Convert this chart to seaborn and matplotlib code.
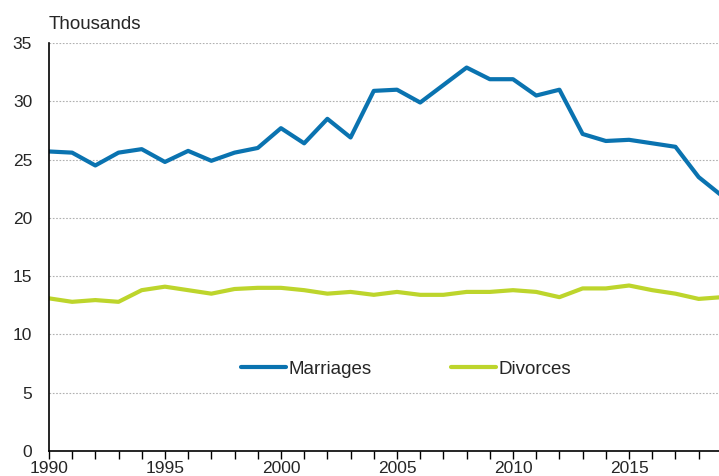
import pandas as pd
import seaborn as sns
import matplotlib.pyplot as plt

# data (thousands)
years = list(range(1990, 2020))
marriages = [25.7, 25.6, 24.5, 25.6, 25.9, 24.8, 25.75, 24.9, 25.6, 26.0,
             27.7, 26.4, 28.5, 26.9, 30.9, 31.0, 29.9, 31.4, 32.9, 31.9,
             31.9, 30.5, 31.0, 27.2, 26.6, 26.7, 26.4, 26.1, 23.5, 21.9]
divorces = [13.1, 12.8, 12.95, 12.8, 13.8, 14.1, 13.8, 13.5, 13.9, 14.0,
            14.0, 13.8, 13.5, 13.65, 13.4, 13.65, 13.4, 13.4, 13.65, 13.65,
            13.8, 13.65, 13.2, 13.95, 13.95, 14.2, 13.8, 13.5, 13.05, 13.2]

df = pd.DataFrame({'year': years * 2,
                   'value': marriages + divorces,
                   'series': ['Marriages'] * len(years) + ['Divorces'] * len(years)})

sns.set_style('white')
plt.rcParams['font.family'] = ['Liberation Sans', 'DejaVu Sans']

fig = plt.figure(figsize=(7.19, 4.76), dpi=100)
ax = fig.add_axes([0.068, 0.0525, 0.936, 0.857])

sns.lineplot(data=df, x='year', y='value', hue='series',
             palette={'Marriages': '#0a73b0', 'Divorces': '#bdd52c'},
             linewidth=3, ax=ax)

ax.set_xlim(1990, 2019)
ax.set_ylim(0, 35)
ax.set_yticks(range(0, 36, 5))
ax.set_xticks(range(1990, 2019, 5))
ax.set_xticks(range(1990, 2019), minor=True)
ax.tick_params(axis='x', which='both', direction='out', length=6, width=1,
               color='black', bottom=True, labelsize=12.5, pad=1)
ax.tick_params(axis='y', length=0, labelsize=12.5, pad=12)
ax.yaxis.grid(True, linestyle=(0, (1.5, 1.5)), color='#b0b0b0', linewidth=0.8)
ax.set_xlabel('')
ax.set_ylabel('')
for s in ['top', 'right']:
    ax.spines[s].set_visible(False)
for s in ['left', 'bottom']:
    ax.spines[s].set_color('black')
    ax.spines[s].set_linewidth(1.2)

ax.legend(loc='center', bbox_to_anchor=(0.531, 0.201), ncol=2, frameon=False,
          fontsize=13.5, handlelength=2.4, handletextpad=0.15, columnspacing=4.2)
ax.text(0.0, 1.025, 'Thousands', transform=ax.transAxes, fontsize=13.5,
        ha='left', va='bottom')

fig.savefig('out.png', dpi=100)
